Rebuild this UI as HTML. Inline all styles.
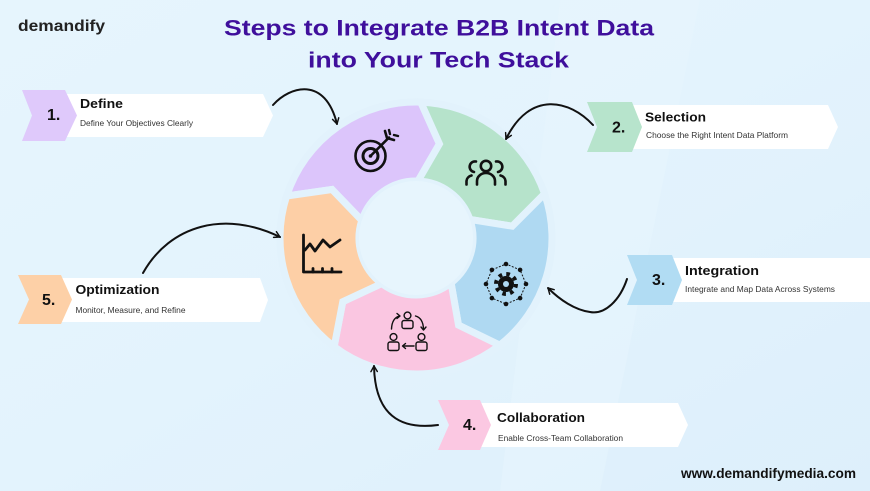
<!DOCTYPE html>
<html>
<head>
<meta charset="utf-8">
<style>
  html,body{margin:0;padding:0;background:#e3f2fc;}
  svg{display:block;}
  text{font-family:"Liberation Sans",Arial,sans-serif;}
</style>
</head>
<body>
<svg width="870" height="491" viewBox="0 0 870 491" xmlns="http://www.w3.org/2000/svg">
  <defs>
    <linearGradient id="bg" x1="0" y1="0" x2="1" y2="1">
      <stop offset="0" stop-color="#e6f5fd"/>
      <stop offset="0.5" stop-color="#e3f3fd"/>
      <stop offset="1" stop-color="#ddeffb"/>
    </linearGradient>
    <marker id="ah" viewBox="0 0 10 10" refX="8.5" refY="5" markerWidth="8" markerHeight="8" markerUnits="userSpaceOnUse" orient="auto">
      <path d="M1.5,1 L8.5,5 L1.5,9" fill="none" stroke="#111" stroke-width="1.8" stroke-linecap="round" stroke-linejoin="round"/>
    </marker>
  </defs>

  <rect x="0" y="0" width="870" height="491" fill="url(#bg)"/>
  <polygon points="560,0 700,0 600,491 500,491" fill="#e8f6fe" opacity="0.5"/>

  <!-- Logo -->
  <text x="18" y="31" font-size="16" font-weight="bold" fill="#222" textLength="87" lengthAdjust="spacingAndGlyphs">demandify</text>

  <!-- Title -->
  <text x="224" y="35.5" font-size="22" font-weight="bold" fill="#3f0f9c" textLength="430" lengthAdjust="spacingAndGlyphs">Steps to Integrate B2B Intent Data</text>
  <text x="308" y="67.5" font-size="22" font-weight="bold" fill="#3f0f9c" textLength="261" lengthAdjust="spacingAndGlyphs">into Your Tech Stack</text>

  <!-- Ring segments -->
  <g stroke="#e2f2fc" stroke-width="7" stroke-linejoin="miter">
    <path fill="#dcc5fb" d="M286.65,195.98 A136,136 0 0 1 420.75,102.08 L439.46,143.88 L417.99,181.03 A57,57 0 0 0 361.79,220.39 L332.00,189.50 Z"/>
    <path fill="#b6e3cb" d="M420.75,102.08 A136,136 0 0 1 544.59,193.72 L512.27,226.18 L469.89,219.44 A57,57 0 0 0 417.99,181.03 L439.46,143.88 Z"/>
    <path fill="#afd9f2" d="M544.59,193.72 A136,136 0 0 1 499.74,345.17 L458.52,325.18 L451.09,282.92 A57,57 0 0 0 469.89,219.44 L512.27,226.18 Z"/>
    <path fill="#fac6e1" d="M499.74,345.17 A136,136 0 0 1 334.16,346.61 L342.79,301.64 L381.70,283.52 A57,57 0 0 0 451.09,282.92 L458.52,325.18 Z"/>
    <path fill="#fdcfa6" d="M334.16,346.61 A136,136 0 0 1 286.65,195.98 L332.00,189.50 L361.79,220.39 A57,57 0 0 0 381.70,283.52 L342.79,301.64 Z"/>
  </g>
  <circle cx="416" cy="238" r="57" fill="#e7f5fd"/>

  <!-- Target icon -->
  <g fill="none" stroke="#111" stroke-linecap="round">
    <circle cx="370.5" cy="156" r="15" stroke-width="2.6"/>
    <circle cx="370.5" cy="156" r="7.5" stroke-width="3"/>
    <circle cx="370.5" cy="156" r="1.8" fill="#111" stroke="none"/>
    <line x1="371" y1="155.5" x2="389" y2="137.5" stroke-width="2.6"/>
    <path d="M385,131 L387,138 L394,140" stroke-width="2.6" stroke-linejoin="round"/>
    <path d="M389,130 L390,134 M394,135 L398,136" stroke-width="2.4"/>
  </g>

  <!-- People icon -->
  <g fill="none" stroke="#111" stroke-width="2.6" stroke-linecap="round">
    <circle cx="486" cy="166" r="5.2"/>
    <path d="M477,184.5 L477,181 A9,8 0 0 1 495,181 L495,184.5"/>
    <path d="M476,161.5 A5,5 0 1 0 474,172"/>
    <path d="M466.5,184.5 L466.5,181 A7,6 0 0 1 471.5,175.5"/>
    <path d="M496,161.5 A5,5 0 1 1 498,172"/>
    <path d="M505.5,184.5 L505.5,181 A7,6 0 0 0 500.5,175.5"/>
  </g>

  <!-- Gear icon -->
  <g>
    <polygon points="526,284 520.1,298.1 506,304 491.9,298.1 486,284 491.9,269.9 506,264 520.1,269.9" fill="none" stroke="#111" stroke-width="1" stroke-dasharray="2,1.5"/>
    <g fill="#111">
      <circle cx="526" cy="284" r="2.3"/><circle cx="520.1" cy="298.1" r="2.3"/>
      <circle cx="506" cy="304" r="2.3"/><circle cx="491.9" cy="298.1" r="2.3"/>
      <circle cx="486" cy="284" r="2.3"/><circle cx="491.9" cy="269.9" r="2.3"/>
      <circle cx="506" cy="264" r="2.3"/><circle cx="520.1" cy="269.9" r="2.3"/>
      <circle cx="506" cy="284" r="8"/>
    </g>
    <circle cx="506" cy="284" r="10" fill="none" stroke="#111" stroke-width="4" stroke-dasharray="3.6,4.25"/>
    <circle cx="506" cy="284" r="3" fill="#afd9f2"/>
  </g>

  <!-- Collaboration icon -->
  <g fill="none" stroke="#111" stroke-width="1.4" stroke-linecap="round" stroke-linejoin="round">
    <circle cx="407.5" cy="315.5" r="3.4"/>
    <rect x="402" y="320.5" width="11" height="8" rx="2"/>
    <circle cx="393.5" cy="337" r="3.4"/>
    <rect x="388" y="342" width="11" height="8.5" rx="2"/>
    <circle cx="421.5" cy="337" r="3.4"/>
    <rect x="416" y="342" width="11" height="8.5" rx="2"/>
    <path d="M391.5,329 Q392,318 399.5,316"/>
    <path d="M397,313.5 L400,316 L397,318.5"/>
    <path d="M415.5,316 Q423,318 423.5,329"/>
    <path d="M421,327 L423.5,330 L426,327"/>
    <path d="M414,346 L403,346"/>
    <path d="M405.5,343.5 L402.5,346 L405.5,348.5"/>
  </g>

  <!-- Chart icon -->
  <g fill="none" stroke="#111" stroke-width="2.8" stroke-linecap="round" stroke-linejoin="round">
    <path d="M303.5,235 L303.5,272 L341,272"/>
    <path d="M313,268.5 L313,272 M322.5,268.5 L322.5,272 M332,268.5 L332,272"/>
    <path d="M305,250 L310,244 L315,251 L323,240 L330,247 L340,240"/>
  </g>

  <!-- Connector arrows -->
  <g fill="none" stroke="#111" stroke-width="2" stroke-linecap="round" marker-end="url(#ah)">
    <path d="M273,105 C290,86 325,76 337,124"/>
    <path d="M593,125 C570,100 530,90 506,139"/>
    <path d="M627,279 C620,300 605,315 590,312 C575,310 560,300 548,288"/>
    <path d="M438,425 C400,430 375,415 374,366"/>
    <path d="M143,273 C170,225 225,210 280,237"/>
  </g>

  <!-- Label 1 -->
  <polygon points="66,94 263,94 273,115.5 263,137 66,137" fill="#ffffff"/>
  <polygon points="22,90 65,90 77,115.5 65,141 22,141 32,115.5" fill="#dfc9fb"/>
  <text x="47" y="120" font-size="16" font-weight="bold" fill="#111">1.</text>
  <text x="80" y="108" font-size="13" font-weight="bold" fill="#111" textLength="43" lengthAdjust="spacingAndGlyphs">Define</text>
  <text x="80" y="126" font-size="8.7" fill="#333" textLength="113" lengthAdjust="spacingAndGlyphs">Define Your Objectives Clearly</text>

  <!-- Label 2 -->
  <polygon points="630,105 828,105 838,127 828,149 630,149" fill="#ffffff"/>
  <polygon points="587,102 632,102 642,127 632,152 587,152 597,127" fill="#b7e4cc"/>
  <text x="612" y="132.5" font-size="16" font-weight="bold" fill="#111">2.</text>
  <text x="645" y="121.5" font-size="13" font-weight="bold" fill="#111" textLength="61" lengthAdjust="spacingAndGlyphs">Selection</text>
  <text x="646" y="138" font-size="8.7" fill="#333" textLength="142" lengthAdjust="spacingAndGlyphs">Choose the Right Intent Data Platform</text>

  <!-- Label 3 -->
  <polygon points="670,258 880,258 880,302 670,302" fill="#ffffff"/>
  <polygon points="627,255 672,255 682,280 672,305 627,305 637,280" fill="#b1dcf3"/>
  <text x="652" y="285" font-size="16" font-weight="bold" fill="#111">3.</text>
  <text x="685" y="275" font-size="13" font-weight="bold" fill="#111" textLength="74" lengthAdjust="spacingAndGlyphs">Integration</text>
  <text x="685" y="292" font-size="8.7" fill="#333" textLength="150" lengthAdjust="spacingAndGlyphs">Integrate and Map Data Across Systems</text>

  <!-- Label 4 -->
  <polygon points="478,403 678,403 688,425 678,447 478,447" fill="#ffffff"/>
  <polygon points="438,400 480,400 491,425 480,450 438,450 449,425" fill="#fbc8e2"/>
  <text x="463" y="430" font-size="16" font-weight="bold" fill="#111">4.</text>
  <text x="497" y="422" font-size="13" font-weight="bold" fill="#111" textLength="88" lengthAdjust="spacingAndGlyphs">Collaboration</text>
  <text x="498" y="441" font-size="8.7" fill="#333" textLength="125" lengthAdjust="spacingAndGlyphs">Enable Cross-Team Collaboration</text>

  <!-- Label 5 -->
  <polygon points="60,278 260,278 268,300 260,322 60,322" fill="#ffffff"/>
  <polygon points="18,275 61,275 72,299.5 61,324 18,324 29,299.5" fill="#fdd0a7"/>
  <text x="42" y="305" font-size="16" font-weight="bold" fill="#111">5.</text>
  <text x="75.5" y="294" font-size="13" font-weight="bold" fill="#111" textLength="84" lengthAdjust="spacingAndGlyphs">Optimization</text>
  <text x="75.5" y="313" font-size="8.7" fill="#333" textLength="110" lengthAdjust="spacingAndGlyphs">Monitor, Measure, and Refine</text>

  <!-- URL -->
  <text x="681" y="478" font-size="13.5" font-weight="bold" fill="#111" textLength="175" lengthAdjust="spacingAndGlyphs">www.demandifymedia.com</text>
</svg>
</body>
</html>
